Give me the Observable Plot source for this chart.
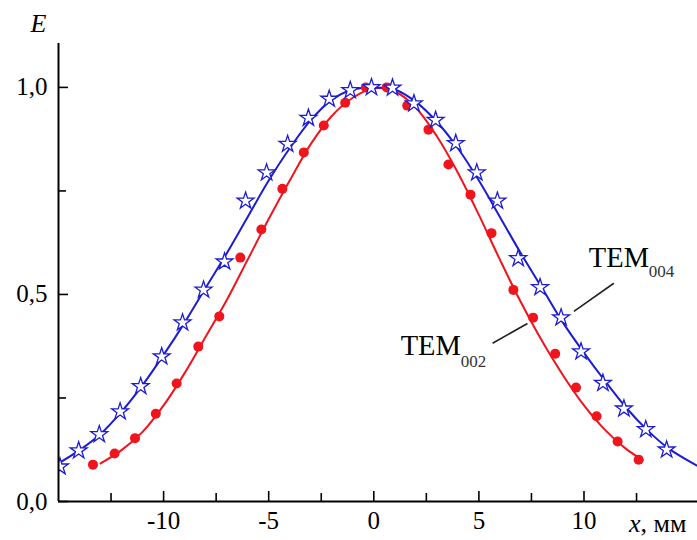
<!DOCTYPE html>
<html><head><meta charset="utf-8">
<script src="https://cdn.jsdelivr.net/npm/d3@7"></script>
<script src="https://cdn.jsdelivr.net/npm/@observablehq/plot@0.6"></script>
<style>body{margin:0;background:#fff}</style>
</head><body><div id="chart"></div>
<script>
// TEM002 measured points (red dots)
const tem002X = [-13.36, -12.33, -11.36, -10.37, -9.38, -8.35, -7.35, -6.35, -5.35, -4.35, -3.33, -2.38, -1.36, -0.38, 0.62, 1.59, 2.6, 3.55, 4.6, 5.6, 6.64, 7.58, 8.63, 9.62, 10.6, 11.6, 12.6];
const tem002E = [0.089, 0.116, 0.153, 0.212, 0.285, 0.374, 0.447, 0.589, 0.657, 0.755, 0.843, 0.908, 0.963, 1.0, 1.0, 0.956, 0.898, 0.814, 0.741, 0.648, 0.511, 0.444, 0.357, 0.275, 0.206, 0.145, 0.101];
// TEM004 measured points (blue stars)
const tem004X = [-14.93, -14.04, -13.06, -12.07, -11.09, -10.09, -9.1, -8.1, -7.1, -6.1, -5.1, -4.1, -3.11, -2.12, -1.12, -0.11, 0.89, 1.91, 2.94, 3.9, 4.9, 5.88, 6.87, 7.91, 8.91, 9.86, 10.9, 11.9, 12.94, 13.93];
const tem004E = [0.084, 0.123, 0.162, 0.217, 0.278, 0.350, 0.432, 0.511, 0.579, 0.726, 0.794, 0.863, 0.926, 0.972, 0.993, 1.0, 0.999, 0.961, 0.921, 0.865, 0.794, 0.726, 0.587, 0.517, 0.444, 0.362, 0.286, 0.224, 0.174, 0.125];
// fitted curves
const tem002FitX = [-13, -12, -11, -10, -9, -8, -7, -6, -5, -4, -3, -2, -1, 0, 1, 2, 3, 4, 5, 6, 7, 8, 9, 10, 11, 12, 12.8];
const tem002FitE = [0.092, 0.124, 0.168, 0.232, 0.310, 0.398, 0.486, 0.584, 0.682, 0.775, 0.863, 0.931, 0.975, 0.998, 0.99, 0.951, 0.882, 0.794, 0.692, 0.584, 0.481, 0.388, 0.305, 0.232, 0.173, 0.127, 0.100];
const tem004FitX = [-15, -14, -13, -12, -11, -10, -9, -8, -7, -6, -5, -4, -3, -2, -1, 0, 1, 2, 3, 4, 5, 6, 7, 8, 9, 10, 11, 12, 13, 14, 15.4];
const tem004FitE = [0.092, 0.124, 0.163, 0.217, 0.281, 0.354, 0.432, 0.516, 0.599, 0.687, 0.775, 0.853, 0.921, 0.970, 0.995, 1.0, 0.995, 0.965, 0.917, 0.853, 0.775, 0.687, 0.599, 0.516, 0.432, 0.359, 0.291, 0.227, 0.173, 0.129, 0.086];
// ticks
const xTicks = [-10, -5, 0, 5, 10];
const xTickLabels = ["-10", "-5", "0", "5", "10"];
const xMinorTicks = [-12.5, -7.5, -2.5, 2.5, 7.5, 12.5];
const yTicks = [0, 0.5, 1.0];
const yTickLabels = ["0,0", "0,5", "1,0"];
const yMinorTicks = [0.25, 0.75];
// series labels
const seriesNames = ["TEM", "TEM"];
const seriesSubs = ["004", "002"];

const RED = "#f0141c", BLUE = "#1c1cd2";
const FONT = "'Liberation Serif', 'Times New Roman', serif";

const pts = (xs, ys) => xs.map((x, i) => ({x, y: ys[i]}));
const xFmt = new Map(xTicks.map((t, i) => [t, xTickLabels[i]]));
const yFmt = new Map(yTicks.map((t, i) => [t, yTickLabels[i]]));

// annotation anchors (label text + leader line)
const labelPos = [
  {name: seriesNames[0], sub: seriesSubs[0], x: 10.23, y: 0.589, lx1: 9.52, ly1: 0.459, lx2: 11.42, ly2: 0.527},
  {name: seriesNames[1], sub: seriesSubs[1], x: 1.28, y: 0.377, lx1: 5.65, ly1: 0.382, lx2: 7.31, ly2: 0.430}
];

const plot = Plot.plot({
  width: 697, height: 540,
  marginLeft: 58, marginRight: 0, marginTop: 43, marginBottom: 39,
  x: {domain: [-15, 15.4]},
  y: {domain: [0, 1.106]},
  style: {fontFamily: FONT, fontSize: "25px", color: "#000", background: "#fff", overflow: "visible"},
  marks: [
    Plot.line(pts(tem002FitX, tem002FitE), {x: "x", y: "y", stroke: RED, strokeWidth: 2, curve: "catmull-rom", clip: true}),
    Plot.line(pts(tem004FitX, tem004FitE), {x: "x", y: "y", stroke: BLUE, strokeWidth: 2, curve: "catmull-rom", clip: true}),
    Plot.dot(pts(tem002X, tem002E), {x: "x", y: "y", r: 5, fill: RED, stroke: "none", clip: true}),
    Plot.dot(pts(tem004X, tem004E), {x: "x", y: "y", r: 5.3, symbol: "star", fill: "white", stroke: BLUE, strokeWidth: 1.3, clip: true}),
    // leader lines
    Plot.link(labelPos, {x1: "lx1", y1: "ly1", x2: "lx2", y2: "ly2", stroke: "#222", strokeWidth: 1.6}),
    Plot.text(labelPos, {x: "x", y: "y", text: "name", textAnchor: "start", lineAnchor: "middle", fontSize: 28.5}),
    Plot.text(labelPos.slice(0, 1), {x: "x", y: "y", text: "sub", textAnchor: "start", lineAnchor: "middle", fontSize: 17, dx: 60, dy: 14, fill: "#333"}),
    Plot.text(labelPos.slice(1), {x: "x", y: "y", text: "sub", textAnchor: "start", lineAnchor: "middle", fontSize: 17, dx: 60, dy: 16, fill: "#333"}),
    // axes
    Plot.axisX(xTicks, {tickSize: -10, tickPadding: 20, tickFormat: d => xFmt.get(d), fontSize: 25, strokeWidth: 1.6, label: null}),
    Plot.axisX(xMinorTicks, {tickSize: -8, tickFormat: () => "", strokeWidth: 1.6, label: null}),
    Plot.axisY(yTicks, {tickSize: -10, tickPadding: 21, tickFormat: d => yFmt.get(d), fontSize: 25, strokeWidth: 1.6, label: null}),
    Plot.axisY(yMinorTicks, {tickSize: -8, tickFormat: () => "", strokeWidth: 1.6, label: null}),
    Plot.ruleY([0], {stroke: "#000", strokeWidth: 2}),
    Plot.ruleX([-15], {stroke: "#000", strokeWidth: 2}),
    // axis titles
    Plot.text(["E"], {frameAnchor: "top-left", dx: -20, dy: -20, fontStyle: "italic", fontSize: 26, lineAnchor: "middle", textAnchor: "middle"}),
    Plot.text(["x"], {frameAnchor: "bottom-right", dx: -57, dy: 22, fontStyle: "italic", fontSize: 26, lineAnchor: "middle", textAnchor: "end"}),
    Plot.text([", мм"], {frameAnchor: "bottom-right", dx: -57, dy: 22, fontSize: 26, lineAnchor: "middle", textAnchor: "start"})
  ]
});
document.getElementById("chart").appendChild(plot);
</script>
</body></html>
